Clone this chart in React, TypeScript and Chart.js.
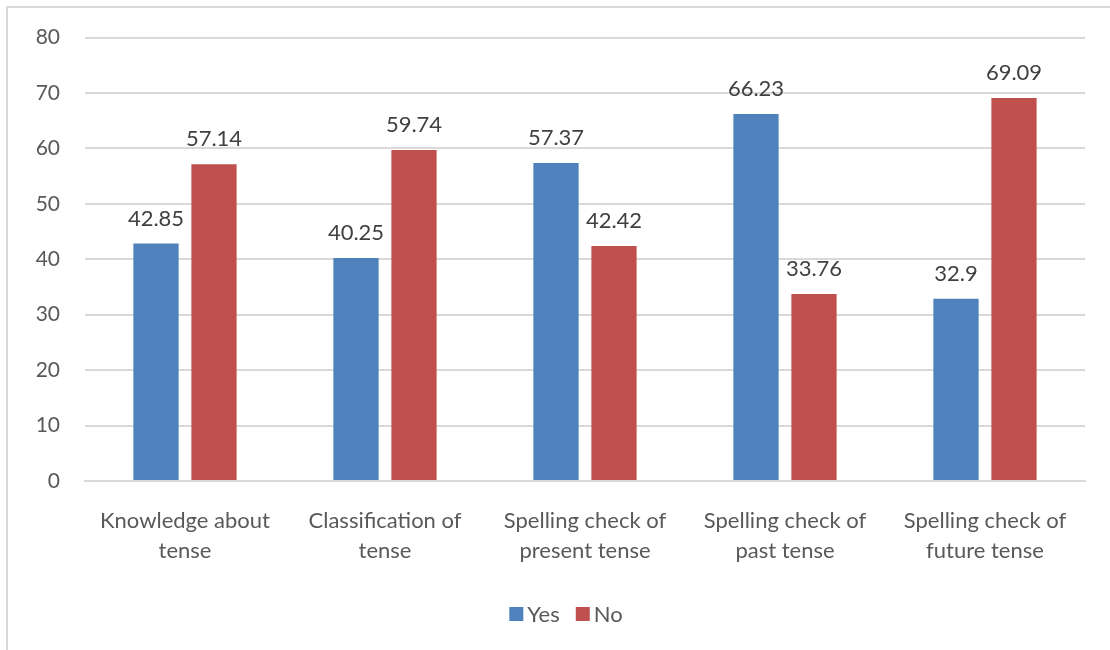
import React, { useEffect, useRef } from "react";
import { Chart, registerables } from "chart.js";

Chart.register(...registerables);

const categories: string[][] = [
  ["Knowledge about", "tense"],
  ["Classification of", "tense"],
  ["Spelling check of", "present tense"],
  ["Spelling check of", "past tense"],
  ["Spelling check of", "future tense"],
];
const yesValues = [42.85, 40.25, 57.37, 66.23, 32.9];
const noValues = [57.14, 59.74, 42.42, 33.76, 69.09];
const seriesNames = ["Yes", "No"];
const yMax = 80;
const yStep = 10;

const FONT = "Lato, 'Open Sans', sans-serif";

const valueLabels = {
  id: "valueLabels",
  afterDatasetsDraw(chart: any) {
    const ctx = chart.ctx;
    ctx.save();
    ctx.font = `22px ${FONT}`;
    ctx.fillStyle = "#404040";
    ctx.textAlign = "center";
    ctx.textBaseline = "bottom";
    chart.data.datasets.forEach((ds: any, i: number) => {
      const meta = chart.getDatasetMeta(i);
      meta.data.forEach((bar: any, j: number) => {
        ctx.fillText(String(ds.data[j]), bar.x, bar.y - 14);
      });
    });
    ctx.restore();
  },
};

const bottomLegend = {
  id: "bottomLegend",
  afterDraw(chart: any) {
    const ctx = chart.ctx;
    ctx.save();
    ctx.font = `22px ${FONT}`;
    ctx.textBaseline = "middle";
    ctx.textAlign = "left";
    const box = 14, gap = 4, itemGap = 16;
    const items = chart.data.datasets.map((d: any) => ({ text: d.label, color: d.backgroundColor, w: ctx.measureText(d.label).width }));
    const total = items.reduce((a: number, it: any) => a + box + gap + it.w, 0) + itemGap * (items.length - 1);
    let x = 566 - total / 2;
    const y = 614;
    items.forEach((it: any) => {
      ctx.fillStyle = it.color;
      ctx.fillRect(x, y - box / 2, box, box);
      x += box + gap;
      ctx.fillStyle = "#595959";
      ctx.fillText(it.text, x, y + 1);
      x += it.w + itemGap;
    });
    ctx.restore();
  },
};

export default function App() {
  const ref = useRef<HTMLCanvasElement>(null);
  useEffect(() => {
    if (!ref.current) return;
    const chart = new Chart(ref.current, {
      type: "bar",
      data: {
        labels: categories,
        datasets: [
          { label: seriesNames[0], data: yesValues, backgroundColor: "#4F81BD", categoryPercentage: 0.58, barPercentage: 0.78 },
          { label: seriesNames[1], data: noValues, backgroundColor: "#C0504D", categoryPercentage: 0.58, barPercentage: 0.78 },
        ],
      },
      options: {
        responsive: false,
        animation: false,
        layout: { padding: { left: 10, right: 25, top: 24, bottom: 66 } },
        scales: {
          x: {
            grid: { display: false },
            border: { color: "#D9D9D9", width: 2 },
            ticks: { color: "#595959", font: { family: FONT, size: 22, lineHeight: 1.36 }, padding: 17, maxRotation: 0, autoSkip: false },
            afterFit: (s: any) => { s.height = 103; },
          },
          y: {
            min: 0,
            max: yMax,
            grid: { color: "#D9D9D9", lineWidth: 2, drawTicks: false },
            border: { display: false },
            ticks: { stepSize: yStep, color: "#595959", font: { family: FONT, size: 21 }, padding: 25 },
            afterFit: (s: any) => { s.width = 75; },
          },
        },
        plugins: {
          legend: { display: false },
          tooltip: { enabled: false },
        },
      },
      plugins: [valueLabels, bottomLegend],
    });
    return () => chart.destroy();
  }, []);
  return (
    <div style={{ position: "absolute", left: 0, top: 0, width: 1110, height: 650, overflow: "hidden", background: "#fff" }}>
      <div style={{ position: "absolute", left: 6, top: 6, width: 2000, height: 2000, border: "2px solid #D9D9D9" }} />
      <canvas ref={ref} width={1110} height={650} style={{ position: "absolute", left: 0, top: 0 }} />
    </div>
  );
}
